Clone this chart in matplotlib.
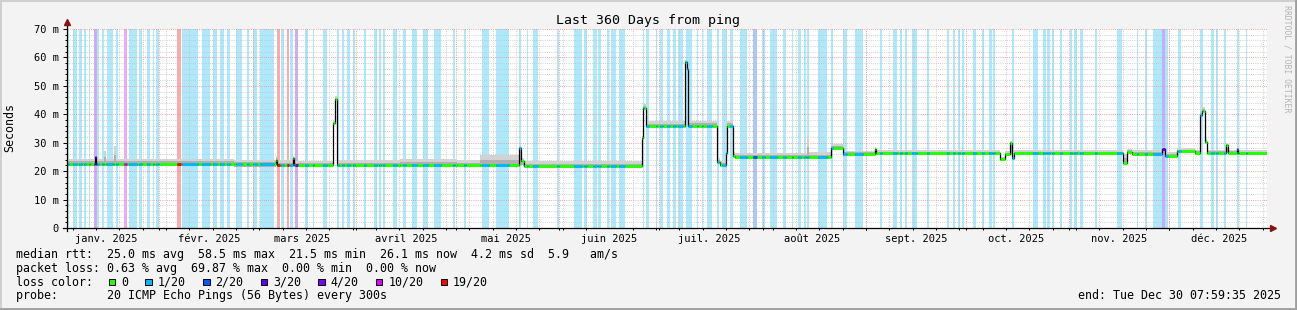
import numpy as np
import matplotlib
matplotlib.use("Agg")
import matplotlib.pyplot as plt
import matplotlib.transforms as mtransforms
from matplotlib.patches import Rectangle
from matplotlib.lines import Line2D
from datetime import datetime, timedelta

# ---------------- data ----------------
END = datetime(2025, 12, 30, 7, 59, 35)
SPAN_DAYS = 360
START = END - timedelta(days=SPAN_DAYS)

# median RTT (ms) as a step series: value holds from med_day[i] to med_day[i+1]
med_day = [0.0, 8.3, 8.6, 11.2, 11.8, 14.2, 14.8, 50.0, 62.8, 63.1, 67.7, 68.0,
           79.9, 80.4, 80.9, 100.0, 117.0, 124.0, 135.6, 136.3, 137.0, 172.4,
           172.8, 173.6, 185.4, 185.9, 186.3, 194.9, 195.9, 197.7, 197.9, 199.8,
           200.4, 222.0, 222.7, 229.1, 232.8, 242.5, 242.8, 279.9, 281.4, 282.9,
           283.4, 284.1, 316.8, 318.0, 319.5, 328.5, 329.4, 333.0, 338.4, 339.9,
           340.5, 341.3, 341.9, 347.7, 348.3, 351.0, 351.3]
med_ms = [22.6, 25.0, 22.6, 22.6, 22.6, 22.6, 22.6, 22.4, 24.0, 22.2, 24.5, 22.0,
          37.0, 45.5, 22.0, 22.0, 22.0, 22.0, 28.0, 23.5, 21.9, 31.6,
          42.2, 35.9, 58.5, 56.0, 36.0, 23.3, 22.2, 26.4, 36.0, 25.3,
          24.8, 24.8, 24.9, 28.1, 26.0, 27.8, 26.3, 24.2, 26.0, 30.0,
          24.6, 26.3, 23.0, 26.8, 26.2, 27.7, 25.4, 27.1, 26.4, 39.7,
          41.3, 30.4, 26.4, 29.2, 26.4, 27.8, 26.3]
smoke_lo = [21.8, 22.0, 21.8, 21.8, 21.8, 21.8, 21.8, 21.4, 22.0, 21.4, 22.0, 21.3,
            36.5, 45.0, 21.3, 21.3, 21.3, 21.3, 22.0, 22.0, 21.3, 31.0,
            41.6, 35.4, 58.0, 55.5, 35.4, 22.7, 21.8, 25.8, 35.4, 24.8,
            24.3, 24.3, 24.3, 27.6, 25.5, 25.6, 25.7, 23.6, 25.5, 26.0,
            24.0, 25.7, 22.5, 26.2, 25.7, 26.5, 25.0, 26.5, 26.0, 39.2,
            40.8, 29.8, 25.9, 26.5, 25.9, 26.4, 25.8]
smoke_hi = [24.4, 25.6, 24.4, 27.0, 24.4, 29.0, 24.3, 24.0, 25.5, 23.8, 25.5, 23.7,
            37.8, 46.3, 23.8, 24.4, 24.0, 25.6, 29.0, 24.5, 23.4, 32.5,
            43.5, 37.6, 59.0, 56.6, 37.6, 24.6, 23.6, 27.2, 37.6, 26.6,
            26.4, 32.0, 26.6, 29.6, 27.2, 28.4, 27.5, 25.0, 27.0, 30.6,
            25.6, 27.4, 26.0, 27.8, 27.4, 28.5, 26.6, 28.1, 27.5, 41.5,
            42.6, 31.6, 27.6, 29.8, 27.6, 28.4, 27.4]

# packet-loss periods (days since start) and loss level index
loss_start = [0.1, 1.9, 3.7, 5.1, 6.5, 8.1, 9.1, 10.4, 11.9, 14.7, 17.1, 18.7, 21.7,
              24.1, 25.7, 26.7, 32.9, 34.4, 40.4, 43.9, 45.9, 47.9, 50.7, 53.9, 55.7,
              57.9, 62.9, 64.2, 65.9, 66.9, 68.4, 71.4, 73.7, 76.9, 80.9, 82.4, 84.1,
              85.9, 89.1, 92.1, 93.7, 94.9, 97.9, 100.9, 103.4, 106.9, 110.1, 115.9,
              119.1, 124.4, 128.7, 135.7, 137.9, 139.7, 147.1, 152.1, 155.1, 157.9,
              159.4, 162.1, 163.1, 165.7, 172.7, 173.7, 176.7, 177.9, 180.1, 181.7,
              183.4, 185.7, 188.9, 190.4, 191.9, 194.9, 196.4, 198.9, 201.9, 205.9,
              208.4, 210.9, 214.7, 217.4, 219.4, 221.1, 222.1, 225.4, 229.1, 232.9,
              236.4, 243.9, 247.9, 249.9, 251.4, 253.4, 257.9, 263.9, 265.7, 267.4,
              268.4, 271.9, 274.4, 276.7, 277.9, 283.4, 289.9, 292.9, 294.1, 295.4,
              297.9, 300.9, 302.1, 303.9, 308.4, 314.9, 320.9, 323.4, 325.9, 328.4,
              329.4, 333.4, 339.9, 343.1, 344.7, 347.1, 350.9, 353.7]
loss_end = [0.6, 3.1, 4.5, 5.7, 6.9, 9.0, 9.7, 11.0, 13.9, 15.2, 17.9, 20.9, 22.4,
            24.9, 26.1, 27.5, 34.1, 39.4, 42.9, 44.9, 47.1, 48.9, 52.5, 54.7, 56.9,
            62.1, 63.9, 65.1, 66.7, 67.9, 69.2, 72.4, 74.2, 77.9, 81.5, 83.1, 84.9,
            86.4, 89.7, 92.9, 94.2, 95.4, 98.9, 101.6, 105.1, 108.4, 112.1, 116.3,
            119.7, 126.7, 132.7, 136.1, 138.4, 141.4, 147.7, 154.4, 155.9, 158.9,
            160.1, 162.7, 164.7, 167.4, 173.1, 174.7, 177.1, 178.8, 180.9, 182.7,
            184.7, 187.4, 189.4, 190.9, 193.4, 195.7, 197.9, 199.7, 203.9, 206.9,
            209.4, 212.9, 215.7, 217.9, 220.1, 221.7, 222.7, 227.9, 229.7, 233.9,
            238.7, 244.4, 249.1, 250.4, 251.9, 254.9, 258.7, 264.7, 266.4, 267.9,
            269.1, 272.7, 275.1, 277.4, 278.5, 284.1, 291.4, 293.7, 294.9, 296.1,
            298.4, 301.5, 302.9, 304.9, 308.9, 316.4, 321.4, 324.1, 328.4, 329.4,
            330.4, 334.1, 340.9, 344.1, 345.4, 347.7, 351.5, 354.1]
loss_level = [1, 1, 1, 1, 1, 4, 1, 1, 1, 1, 5, 1, 1,
              1, 1, 1, 6, 1, 1, 1, 1, 1, 1, 1, 1,
              1, 6, 1, 6, 1, 4, 1, 1, 1, 1, 1, 1,
              1, 1, 1, 1, 1, 1, 1, 1, 1, 1, 1,
              1, 1, 1, 1, 1, 1, 1, 1, 1, 1,
              1, 1, 1, 1, 1, 1, 1, 1, 1, 1,
              1, 1, 1, 1, 1, 1, 1, 1, 1, 2,
              1, 1, 1, 1, 1, 1, 1, 1, 1, 1,
              1, 1, 1, 1, 1, 1, 1, 1, 1, 1,
              1, 1, 1, 1, 1, 1, 1, 1, 1, 1,
              1, 1, 1, 1, 1, 1, 1, 1, 1, 3,
              1, 1, 1, 1, 1, 1, 1, 1]

loss_labels = ["0", "1/20", "2/20", "3/20", "4/20", "10/20", "19/20"]
loss_colors = ["#26ff00", "#00b8ff", "#0059ff", "#5e00ff", "#7e00ff", "#dd00ff", "#ff0000"]
band_colors = [None, "#aee8fb", "#aac8ff", "#c8aaff", "#d0aaf6", "#eeaaf8", "#ffaaaa"]

month_names = ["janv.", "févr.", "mars", "avril", "mai", "juin", "juil.",
               "août", "sept.", "oct.", "nov.", "déc."]
YEAR = 2025

title = "Last 360 Days from ping"
ylabel = "Seconds"
legend_rtt = "median rtt:  25.0 ms avg  58.5 ms max  21.5 ms min  26.1 ms now  4.2 ms sd  5.9   am/s"
legend_loss = "packet loss: 0.63 % avg  69.87 % max  0.00 % min  0.00 % now"
legend_color = "loss color:"
legend_probe = "probe:       20 ICMP Echo Pings (56 Bytes) every 300s"
end_text = "end: " + END.strftime("%a %b %d %H:%M:%S %Y")
watermark = "RRDTOOL / TOBI OETIKER"

# ---------------- figure ----------------
plt.rcParams['font.family'] = ['DejaVu Sans Mono']
W, H = 1297, 310
BG = "#f3f3f3"
fig = plt.figure(figsize=(W / 100, H / 100), dpi=100, facecolor=BG)
PX = mtransforms.Affine2D().scale(1.0 / W, -1.0 / H).translate(0, 1) + fig.transFigure

L, R, T, B = 67, 1267, 29, 228
ax = fig.add_axes([L / W, 1 - B / H, (R - L) / W, (B - T) / H])
ax.set_facecolor("white")
ax.set_xlim(0, SPAN_DAYS)
ax.set_ylim(0, 70)
for s in ax.spines.values():
    s.set_visible(False)


def to_day(dt):
    return (dt - START).total_seconds() / 86400.0


# loss background bands
for s, e, lv in zip(loss_start, loss_end, loss_level):
    ax.axvspan(s, e, color=band_colors[lv], lw=0, zorder=0.5)

# grid
GRID_MIN = "#c4c4c4"
GRID_MAJ = "#ec8c8c"
dash = (0, (0.72, 1.44))
for v in range(2, 71, 2):
    if v % 10:
        ax.axhline(v, color=GRID_MIN, lw=0.72, ls=dash, zorder=1.5)
for v in range(10, 71, 10):
    ax.axhline(v, color=GRID_MAJ, lw=0.72, ls=dash, zorder=1.6)

mondays = []
d0 = START.replace(hour=0, minute=0, second=0)
while d0.weekday() != 0 or d0 < START:
    d0 += timedelta(days=1)
while to_day(d0) <= SPAN_DAYS:
    mondays.append(to_day(d0))
    d0 += timedelta(days=7)
month_starts = []
label_pos = []
label_txt = []
for m in range(1, 13):
    ms = datetime(YEAR, m, 1)
    dd = to_day(ms)
    if 0 <= dd <= SPAN_DAYS:
        month_starts.append(dd)
    mid = to_day(ms + timedelta(days=15))
    if 0 <= mid <= SPAN_DAYS:
        label_pos.append(mid)
        label_txt.append(f"{month_names[m - 1]} {YEAR}")
for d in mondays:
    ax.axvline(d, color=GRID_MIN, lw=0.72, ls=dash, zorder=1.5)
for d in month_starts:
    ax.axvline(d, color=GRID_MAJ, lw=0.72, ls=dash, zorder=1.6)

# smoke (outer light band, darker core near the median)
xs = np.array(med_day + [SPAN_DAYS])
lo = np.array(smoke_lo + [smoke_lo[-1]])
hi = np.array(smoke_hi + [smoke_hi[-1]])
med = np.array(med_ms + [med_ms[-1]])
core = med + 0.5 * (hi - med)
ax.fill_between(xs, lo, hi, step="post", color="#d2d2d2", lw=0, zorder=2)
ax.fill_between(xs, lo, core, step="post", color="#b0b0b0", lw=0, zorder=2.1)

# median: black connectors + loss-colored segments
ax.plot(xs, med, drawstyle="steps-post", color="black", lw=0.9, zorder=3)
edges = sorted(set(med_day + loss_start + loss_end + [SPAN_DAYS]))
seg_y, seg_a, seg_b, seg_c = [], [], [], []
for a, b in zip(edges[:-1], edges[1:]):
    mid = 0.5 * (a + b)
    i = int(np.searchsorted(med_day, a, side="right") - 1)
    lv = 0
    for s, e, l in zip(loss_start, loss_end, loss_level):
        if s <= mid < e:
            lv = l
            break
    seg_y.append(med_ms[i])
    seg_a.append(a)
    seg_b.append(b)
    seg_c.append(loss_colors[lv])
ax.hlines(seg_y, seg_a, seg_b, colors=seg_c, lw=2.2, zorder=4)

# ticks
ax.set_yticks(range(0, 71, 10))
ax.set_yticklabels(["0"] + [f"{v} m" for v in range(10, 71, 10)])
ax.set_yticks(range(0, 71, 2), minor=True)
ax.tick_params(axis="y", which="major", length=2.8, width=0.72, pad=3.2,
               labelsize=7.5, colors="black", direction="out")
ax.tick_params(axis="y", which="minor", length=1.4, width=0.72, direction="out")
ax.set_xticks(label_pos)
ax.set_xticklabels(label_txt)
ax.set_xticks(mondays + month_starts, minor=True)
ax.tick_params(axis="x", which="major", length=0, pad=4.0, labelsize=7.5)
ax.tick_params(axis="x", which="minor", length=1.6, width=0.72, direction="out")

# axis lines with arrows
pxw, pxh = 1.0 / (R - L), 1.0 / (B - T)
ax.add_line(Line2D([0, 0], [-3 * pxh, 1 + 5 * pxh], transform=ax.transAxes,
                   color="black", lw=0.9, clip_on=False, zorder=6))
ax.add_line(Line2D([-4 * pxw, 1 + 3 * pxw], [0, 0], transform=ax.transAxes,
                   color="black", lw=0.9, clip_on=False, zorder=6))
ax.plot([0], [1 + 7 * pxh], marker="^", ms=5, color="#8b1010",
        transform=ax.transAxes, clip_on=False, zorder=7)
ax.plot([1 + 6 * pxw], [0], marker=">", ms=5, color="#8b1010",
        transform=ax.transAxes, clip_on=False, zorder=7)

# texts
fig.text(648.5, 24, title, transform=PX, ha="center", va="baseline", fontsize=9.5)
fig.text(10, 127, ylabel, transform=PX, ha="center", va="center", rotation=90, fontsize=8.4)
fig.text(1287, 59, watermark, transform=PX, ha="center", va="center", rotation=270,
         fontsize=5.9, color="#b4b4b4")

X0 = 16
CW = 7.03
fig.text(X0, 258.3, legend_rtt, transform=PX, ha="left", va="baseline", fontsize=8.4)
fig.text(X0, 272.0, legend_loss, transform=PX, ha="left", va="baseline", fontsize=8.4)
fig.text(X0, 285.7, legend_color, transform=PX, ha="left", va="baseline", fontsize=8.4)
fig.text(X0, 299.4, legend_probe, transform=PX, ha="left", va="baseline", fontsize=8.4)
fig.text(1281, 299.4, end_text, transform=PX, ha="right", va="baseline", fontsize=8.4)

bx = X0 + 13 * CW + 1.5
for lab, col in zip(loss_labels, loss_colors):
    fig.add_artist(Rectangle((bx, 278.5), 6.5, 6.8, transform=PX, facecolor=col,
                             edgecolor="black", lw=0.7))
    tx = bx + 12.5
    fig.text(tx, 285.7, lab, transform=PX, ha="left", va="baseline", fontsize=8.4)
    bx = tx + len(lab) * CW + 17

# frame (3D-like)
fig.add_artist(Line2D([0, W], [0.5, 0.5], transform=PX, color="#cfcfcf", lw=1.4))
fig.add_artist(Line2D([0.5, 0.5], [0, H], transform=PX, color="#cfcfcf", lw=1.4))
fig.add_artist(Line2D([0, W], [H - 1, H - 1], transform=PX, color="#9e9e9e", lw=2.0))
fig.add_artist(Line2D([W - 1, W - 1], [0, H], transform=PX, color="#9e9e9e", lw=2.0))

fig.savefig("out.png", dpi=100, facecolor=BG)
